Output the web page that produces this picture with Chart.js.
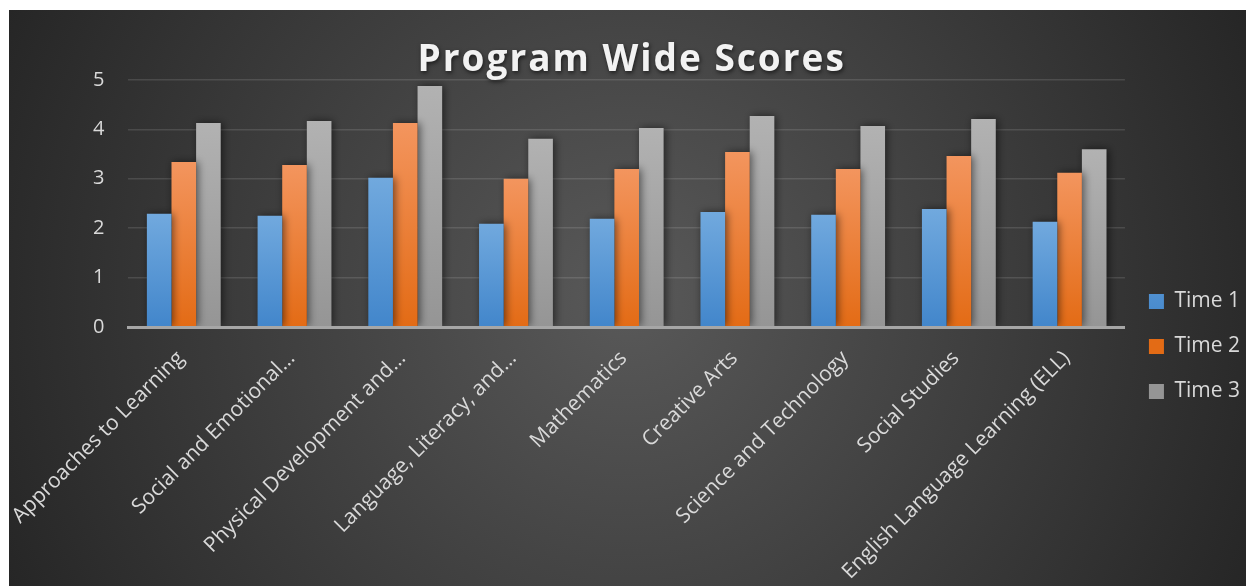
<!DOCTYPE html>
<html>
<head>
<meta charset="utf-8">
<title>Program Wide Scores</title>
<script src="https://cdn.jsdelivr.net/npm/chart.js@4.4.1/dist/chart.umd.min.js"></script>
<style>
  html, body { margin: 0; padding: 0; background: #fff; }
  #wrap { width: 1246px; height: 586px; }
</style>
</head>
<body>
<div id="wrap"><canvas id="chart-scores" width="1246" height="586"></canvas></div>
<script>
const categories = [
  "Approaches to Learning",
  "Social and Emotional…",
  "Physical Development and…",
  "Language, Literacy, and…",
  "Mathematics",
  "Creative Arts",
  "Science and Technology",
  "Social Studies",
  "English Language Learning (ELL)",
];
const seriesNames = ["Time 1", "Time 2", "Time 3"];
const time1 = [2.29, 2.25, 3.02, 2.09, 2.19, 2.33, 2.27, 2.39, 2.13];
const time2 = [3.34, 3.28, 4.13, 3.00, 3.20, 3.54, 3.20, 3.46, 3.12];
const time3 = [4.13, 4.17, 4.88, 3.81, 4.03, 4.27, 4.07, 4.21, 3.60];
const yMin = 0, yMax = 5, yStep = 1;

const FONT = "'Open Sans', sans-serif";
const TEXT = "#d9d9d9";

// top / bottom colour of each series' bar gradient
const _shades = [
  ["#71a9de", "#4286cb"],
  ["#f3955e", "#e36b15"],
  ["#b2b2b2", "#959595"],
];

function _barFill(i) {
  return (c) => {
    const [top, bottom] = _shades[i];
    if (c.type !== "data" || !c.chart.chartArea) return top;
    const y = c.chart.scales.y;
    const y0 = y.getPixelForValue(0), y1 = y.getPixelForValue(c.parsed.y);
    if (!isFinite(y0) || !isFinite(y1) || y0 === y1) return bottom;
    const g = c.chart.ctx.createLinearGradient(0, y1, 0, y0);
    g.addColorStop(0, top);
    g.addColorStop(1, bottom);
    return g;
  };
}

/** dark radial backdrop inside a thin white frame */
const bgPlugin = {
  id: "bg",
  beforeDraw(chart) {
    const { ctx, width, height } = chart;
    ctx.save();
    ctx.fillStyle = "#fff";
    ctx.fillRect(0, 0, width, height);
    const x = 9, y = 10, w = width - x, h = height - y;
    const g = ctx.createRadialGradient(x + w / 2, y + h / 2, 0, x + w / 2, y + h / 2, Math.hypot(w, h) / 2);
    g.addColorStop(0, "#595959");
    g.addColorStop(1, "#262626");
    ctx.fillStyle = g;
    ctx.fillRect(x, y, w, h);
    ctx.restore();
  },
};

/** soft shadow behind the bars */
const shadowPlugin = {
  id: "barShadow",
  beforeDatasetsDraw(chart) {
    const c = chart.ctx;
    c.save();
    c.shadowColor = "rgba(0,0,0,0.55)";
    c.shadowBlur = 8;
    c.shadowOffsetX = 2;
  },
  afterDatasetsDraw(chart) { chart.ctx.restore(); },
};

/** letter-spaced title with a drop shadow */
const titleStyle = {
  id: "titleStyle",
  afterInit(chart) {
    const block = chart.titleBlock;
    if (!block) return;
    const draw = block.draw;
    block.draw = function (...a) {
      const c = chart.ctx;
      c.save();
      c.translate(5, 0);
      c.letterSpacing = "2px";
      c.shadowColor = "rgba(0,0,0,0.6)";
      c.shadowBlur = 4;
      c.shadowOffsetX = 1;
      c.shadowOffsetY = 2;
      draw.apply(this, a);
      c.restore();
    };
  },
};

new Chart(document.getElementById("chart-scores"), {
  type: "bar",
  data: {
    labels: categories,
    datasets: [time1, time2, time3].map((d, i) => ({
      label: seriesNames[i], data: d,
      backgroundColor: _barFill(i), borderWidth: 0,
      categoryPercentage: 0.667, barPercentage: 1.0,
    })),
  },
  options: {
    responsive: false,
    animation: false,
    layout: { padding: { left: 69, right: -4, top: 10, bottom: -17.4 } },
    plugins: {
      title: {
        display: true, text: "Program Wide Scores", fullSize: false,
        color: "#f2f2f2", font: { family: FONT, size: 37, weight: "bold", lineHeight: 1.08 },
        padding: { top: 30, bottom: 0 },
      },
      legend: {
        position: "right", align: "center",
        title: { display: true, text: " ", font: { size: 12 }, padding: { top: 65.2, bottom: 0 } },
        labels: { color: TEXT, font: { family: FONT, size: 21 }, boxWidth: 15, boxHeight: 15, padding: 24 },
      },
      tooltip: { enabled: false },
    },
    scales: {
      x: {
        // rotated labels may run into the left margin, as in the original
        afterFit: (s) => { s.paddingLeft = 0; },
        grid: { display: false, drawTicks: false },
        border: { display: true, color: "#a6a6a6", width: 3, z: 1 },
        ticks: {
          color: TEXT, font: { family: FONT, size: 21 },
          minRotation: 45, maxRotation: 45, autoSkip: false,
          padding: 19, labelOffset: -3,
        },
      },
      y: {
        min: yMin, max: yMax,
        ticks: { stepSize: yStep, color: TEXT, font: { family: FONT, size: 20 }, padding: 24 },
        grid: { color: "rgba(255,255,255,0.12)", lineWidth: 1.5, drawTicks: false },
        border: { display: false },
      },
    },
  },
  plugins: [bgPlugin, shadowPlugin, titleStyle],
});
</script>
</body>
</html>
